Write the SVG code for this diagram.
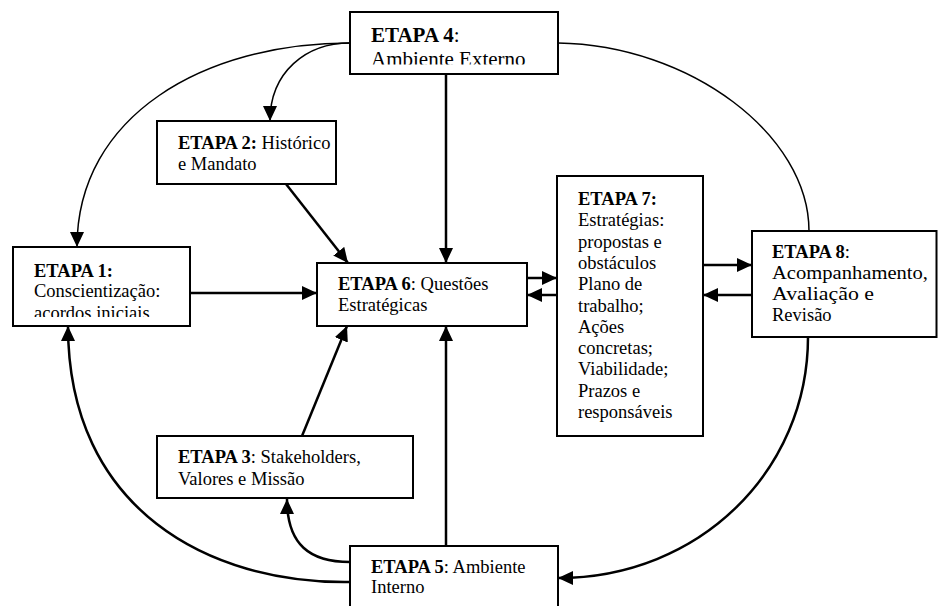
<svg xmlns="http://www.w3.org/2000/svg" width="938" height="606" viewBox="0 0 938 606">
<style>
.box{fill:#fff;stroke:#000;stroke-width:2}
.t{font-family:"Liberation Serif","Times New Roman",serif;font-size:18.5px;fill:#000}
.big{font-size:21px}
.b{font-weight:bold}
.thin{fill:none;stroke:#000;stroke-width:1.5}
.thick{fill:none;stroke:#000;stroke-width:2.5}
</style>
<defs>
<marker id="ah" markerUnits="userSpaceOnUse" markerWidth="15" markerHeight="14" refX="15" refY="7" orient="auto">
<path d="M0,0 L15,7 L0,14 z" fill="#000"/>
</marker>
<clipPath id="clip1"><rect x="13" y="247" width="177" height="70"/></clipPath>
<clipPath id="clip4"><rect x="350" y="12" width="208" height="52.5"/></clipPath>
</defs>
<rect width="938" height="606" fill="#fff"/>
<g id="connectors">
<path class="thin" d="M350,43 C205,43 77,115 77,247" marker-end="url(#ah)"/>
<path class="thin" d="M350,43 C306,43 270,72 270,121" marker-end="url(#ah)"/>
<path class="thin" d="M558,43 C690,45 809,135 809,231"/>
<path class="thick" d="M446,74 L446,263" marker-end="url(#ah)"/>
<path class="thick" d="M286,184 L348,263" marker-end="url(#ah)"/>
<path class="thick" d="M190,293 L317,293" marker-end="url(#ah)"/>
<path class="thick" d="M302,436 L347,326" marker-end="url(#ah)"/>
<path class="thick" d="M446,546 L446,326" marker-end="url(#ah)"/>
<path class="thick" d="M350,562 C310,562 287,545 287,499" marker-end="url(#ah)"/>
<path class="thick" d="M350,582 C210,584 68,510 68,326" marker-end="url(#ah)"/>
<path class="thick" d="M527,278 L557,278" marker-end="url(#ah)"/>
<path class="thick" d="M557,295 L527,295" marker-end="url(#ah)"/>
<path class="thick" d="M703,265 L752,265" marker-end="url(#ah)"/>
<path class="thick" d="M752,295 L703,295" marker-end="url(#ah)"/>
<path class="thick" d="M808,337 C808,470 700,578 558,578" marker-end="url(#ah)"/>
</g>
<g id="etapa4">
<rect class="box" x="350" y="12" width="208" height="62"/>
<g clip-path="url(#clip4)">
<text class="t big" x="371" y="42"><tspan class="b">ETAPA 4</tspan>:</text>
<text class="t big" x="371" y="66">Ambiente Externo</text>
</g>
</g>
<g id="etapa2">
<rect class="box" x="157" y="121" width="179" height="63"/>
<text class="t" x="178" y="149"><tspan class="b">ETAPA 2:</tspan> Histórico</text>
<text class="t" x="178" y="170">e Mandato</text>
</g>
<g id="etapa1">
<rect class="box" x="13" y="247" width="177" height="79"/>
<g clip-path="url(#clip1)">
<text class="t" x="34" y="277"><tspan class="b">ETAPA 1:</tspan></text>
<text class="t" x="34" y="297">Conscientização:</text>
<text class="t" x="34" y="318.5">acordos iniciais</text>
</g>
</g>
<g id="etapa6">
<rect class="box" x="317" y="263" width="210" height="63"/>
<text class="t" x="338" y="290"><tspan class="b">ETAPA 6</tspan>: Questões</text>
<text class="t" x="338" y="311">Estratégicas</text>
</g>
<g id="etapa7">
<rect class="box" x="557" y="176" width="146" height="260"/>
<text class="t" x="578" y="205"><tspan class="b">ETAPA 7:</tspan></text>
<text class="t" x="578" y="226.3">Estratégias:</text>
<text class="t" x="578" y="247.6">propostas e</text>
<text class="t" x="578" y="268.9">obstáculos</text>
<text class="t" x="578" y="290.2">Plano de</text>
<text class="t" x="578" y="311.5">trabalho;</text>
<text class="t" x="578" y="332.8">Ações</text>
<text class="t" x="578" y="354.1">concretas;</text>
<text class="t" x="578" y="375.4">Viabilidade;</text>
<text class="t" x="578" y="396.7">Prazos e</text>
<text class="t" x="578" y="418">responsáveis</text>
</g>
<g id="etapa8">
<rect class="box" x="752" y="231" width="184.5" height="106"/>
<text class="t" x="772" y="258"><tspan class="b">ETAPA 8</tspan>:</text>
<text class="t" x="772" y="279" textLength="156" lengthAdjust="spacingAndGlyphs">Acompanhamento,</text>
<text class="t" x="772" y="300" textLength="102" lengthAdjust="spacingAndGlyphs">Avaliação e</text>
<text class="t" x="772" y="321">Revisão</text>
</g>
<g id="etapa3">
<rect class="box" x="157" y="436" width="256" height="62"/>
<text class="t" x="178" y="463"><tspan class="b">ETAPA 3</tspan>: Stakeholders,</text>
<text class="t" x="178" y="485">Valores e Missão</text>
</g>
<g id="etapa5">
<rect class="box" x="350" y="546" width="208" height="70"/>
<text class="t" x="371" y="573"><tspan class="b">ETAPA 5</tspan>: Ambiente</text>
<text class="t" x="371" y="593">Interno</text>
</g>
</svg>
